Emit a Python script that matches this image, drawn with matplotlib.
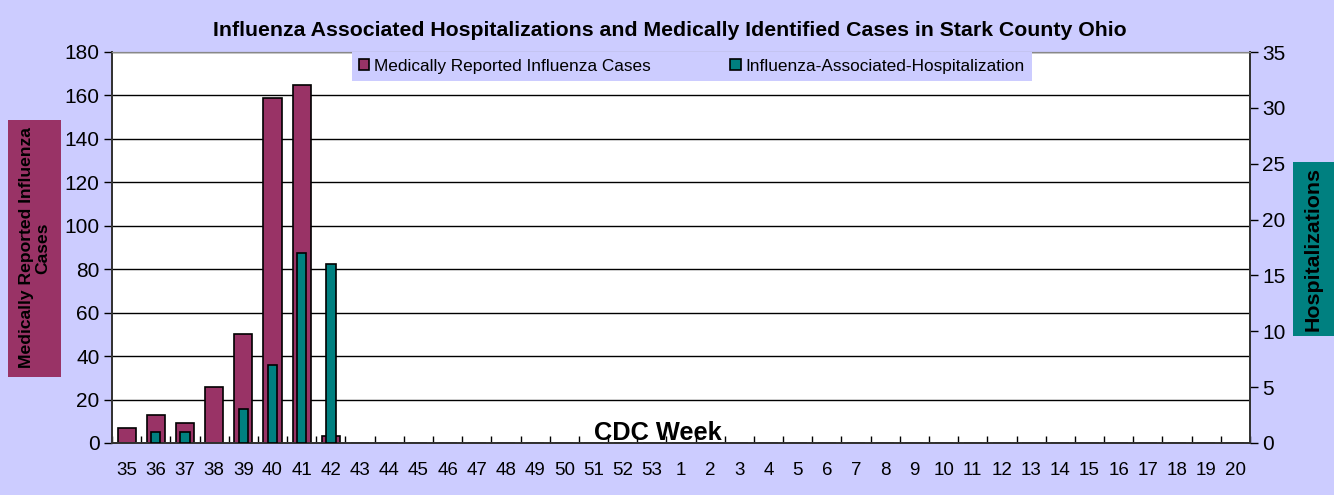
import matplotlib
matplotlib.use("Agg")
from matplotlib import pyplot as plt
from matplotlib.patches import Rectangle
import numpy as np

plt.rcParams['font.family'] = ['Liberation Sans', 'DejaVu Sans']

weeks = ['35', '36', '37', '38', '39', '40', '41', '42', '43', '44', '45', '46', '47', '48', '49',
         '50', '51', '52', '53', '1', '2', '3', '4', '5', '6', '7', '8', '9', '10', '11', '12',
         '13', '14', '15', '16', '17', '18', '19', '20']
cases = [7, 13, 9, 26, 50, 159, 165, 3, 0, 0, 0, 0, 0, 0, 0,
         0, 0, 0, 0, 0, 0, 0, 0, 0, 0, 0, 0, 0, 0, 0, 0,
         0, 0, 0, 0, 0, 0, 0, 0]
hosp = [0, 1, 1, 0, 3, 7, 17, 16, 0, 0, 0, 0, 0, 0, 0,
        0, 0, 0, 0, 0, 0, 0, 0, 0, 0, 0, 0, 0, 0, 0, 0,
        0, 0, 0, 0, 0, 0, 0, 0]

LAV = '#CCCCFF'
MAROON = '#993366'
TEAL = '#008080'

fig = plt.figure(figsize=(13.34, 4.95), dpi=100, facecolor=LAV)
ax = fig.add_axes([112/1334, 1-443/495, (1250-112)/1334, (443-52)/495])
ax.set_facecolor('white')
ax2 = ax.twinx()

x = np.arange(len(weeks))
b1 = ax.bar(x, cases, 0.62, color=MAROON, edgecolor='black', linewidth=1.2, zorder=3)
mask = np.array(hosp) > 0
b2 = ax2.bar(x[mask], np.array(hosp)[mask], 0.32, color=TEAL, edgecolor='black', linewidth=1.2, zorder=3)

ax.set_xlim(-0.5, len(weeks) - 0.5)
ax.set_ylim(0, 180)
ax2.set_ylim(0, 35)
ax.set_yticks(np.arange(0, 181, 20))
ax2.set_yticks(np.arange(0, 36, 5))
ax.yaxis.grid(True, color='black', linewidth=1.0, zorder=0)
ax.set_axisbelow(True)

ax.set_xticks(x)
ax.set_xticklabels(weeks)
ax.set_xticks(np.arange(-0.5, len(weeks), 1), minor=True)
ax.tick_params(axis='x', which='major', length=0, pad=14, labelsize=13.5)
ax.tick_params(axis='x', which='minor', direction='in', length=5, width=1)
ax.tick_params(axis='y', direction='out', length=6, width=1, labelsize=15, pad=3)
ax2.tick_params(axis='y', direction='out', length=6, width=1, labelsize=15, pad=3)

for a in (ax, ax2):
    for s in ['left', 'right', 'bottom']:
        a.spines[s].set_color('#333333')
        a.spines[s].set_linewidth(1.3)
    a.spines['top'].set_color('#888888')

fig.text(670/1334, 1-31/495, 'Influenza Associated Hospitalizations and Medically Identified Cases in Stark County Ohio',
         ha='center', va='center', fontsize=15.3, fontweight='bold')

ax.text(658/1334, 1-433/495, 'CDC Week', transform=fig.transFigure, ha='center', va='center',
        fontsize=18.3, fontweight='bold', zorder=5)

fig.patches.append(Rectangle((8/1334, 1-377/495), 53/1334, 257/495, transform=fig.transFigure,
                             facecolor=MAROON, edgecolor='none', zorder=0))
fig.text(35/1334, 1-248/495, 'Medically Reported Influenza\nCases', rotation=90, ha='center', va='center',
         fontsize=12.6, fontweight='bold', linespacing=1.1, multialignment='center')
fig.patches.append(Rectangle((1293/1334, 1-336/495), 41/1334, 174/495, transform=fig.transFigure,
                             facecolor=TEAL, edgecolor='none', zorder=0))
fig.text(1313/1334, 1-249/495, 'Hospitalizations', rotation=90, ha='center', va='center',
         fontsize=15.4, fontweight='bold')

leg = ax2.legend([b1, b2], ['Medically Reported Influenza Cases', 'Influenza-Associated-Hospitalization'],
                 loc='upper center', bbox_to_anchor=(692/1334, 1-52/495), bbox_transform=fig.transFigure,
                 ncol=2, frameon=True, facecolor=LAV, edgecolor='none', fancybox=False, framealpha=1,
                 fontsize=12.4, handlelength=0.6, handleheight=0.6, handletextpad=0.3, columnspacing=4.6,
                 borderpad=0.4, borderaxespad=0)

fig.savefig('out.png', dpi=100, facecolor=LAV)
